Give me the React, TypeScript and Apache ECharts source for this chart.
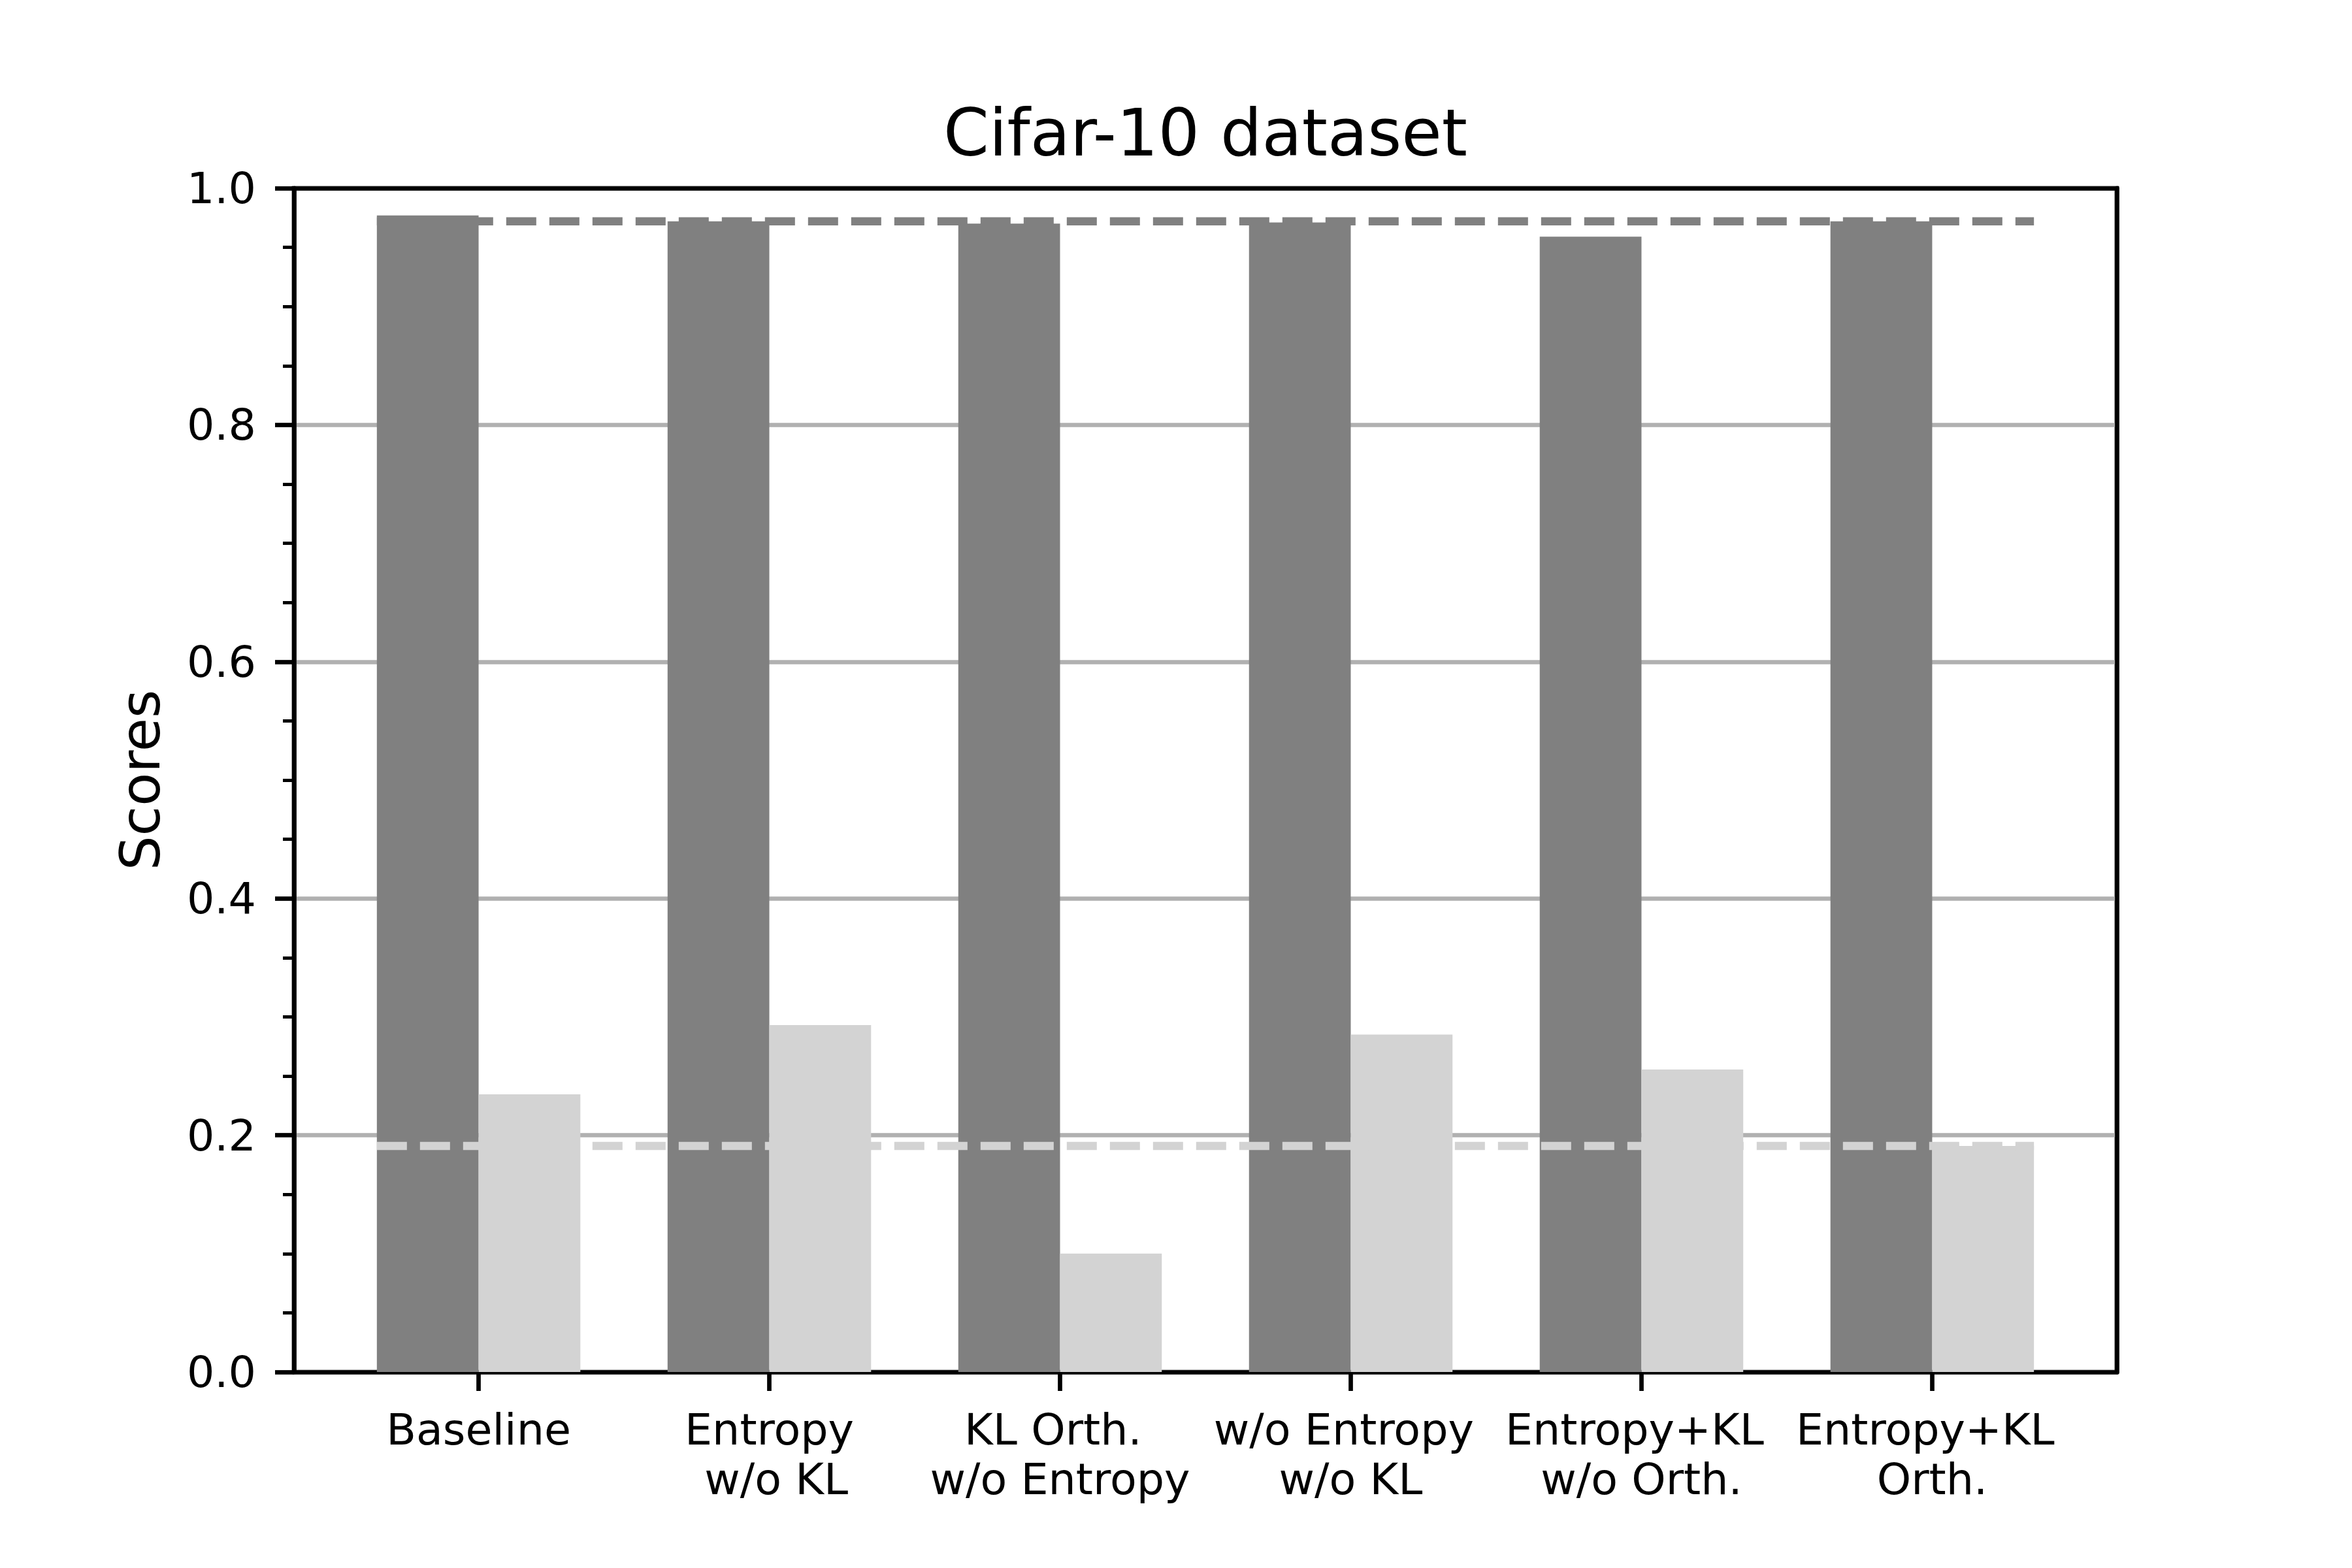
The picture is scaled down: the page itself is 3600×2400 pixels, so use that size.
import React, { useEffect, useRef } from "react";
import * as echarts from "echarts";

const categories = [
  "Baseline",
  "Entropy\n w/o KL",
  "KL Orth. \nw/o Entropy",
  "w/o Entropy \nw/o KL",
  "Entropy+KL \nw/o Orth.",
  "Entropy+KL \nOrth.",
];
const darkScores = [0.977, 0.972, 0.970, 0.971, 0.959, 0.972];
const lightScores = [0.2345, 0.293, 0.1, 0.285, 0.2555, 0.191];
const darkReference = [0.972];
const lightReference = [0.191];
const tickPositions = [0, 1, 2, 3, 4, 5];

const FONT = "DejaVu Sans";
const DARK = "#808080";
const LIGHT = "#d3d3d3";

export default function App() {
  const ref = useRef<HTMLDivElement>(null);
  useEffect(() => {
    if (!ref.current) return;
    const chart = echarts.init(ref.current, null, { renderer: "svg" });
    const gridLeft = 450;
    const gridTop = 288;
    const gridWidth = 2790;
    const gridHeight = 1812;
    const xMin = -0.635;
    const xMax = 5.635;
    const barUnits = 0.35;
    const barPx = (barUnits * gridWidth) / (xMax - xMin);
    const half = barUnits / 2;
    const lineStart = -barUnits;
    const lineEnd = tickPositions[tickPositions.length - 1] + barUnits;
    const spine = { show: true, onZero: false, lineStyle: { color: "#000", width: 6.7 } };

    chart.setOption({
      animation: false,
      backgroundColor: "#ffffff",
      grid: {
        left: gridLeft,
        top: gridTop,
        width: gridWidth,
        height: gridHeight,
        show: true,
        borderColor: "#000",
        borderWidth: 6.7,
        backgroundColor: "transparent",
        containLabel: false,
        outerBoundsMode: "none",
      },
      graphic: [
        {
          type: "text",
          x: gridLeft + gridWidth / 2,
          y: 203,
          style: {
            text: "Cifar-10 dataset",
            fontSize: 100,
            fontFamily: FONT,
            fill: "#000",
            textAlign: "center",
            textVerticalAlign: "middle",
          },
        },
      ],
      xAxis: [
        {
          type: "value",
          min: xMin,
          max: xMax,
          position: "bottom",
          splitLine: { show: false },
          axisLine: spine,
          axisTick: {
            show: true,
            customValues: tickPositions,
            length: 29,
            lineStyle: { color: "#000", width: 6.7 },
          },
          axisLabel: {
            customValues: tickPositions,
            formatter: (v: number) => categories[Math.round(v)] ?? "",
            fontSize: 66.7,
            lineHeight: 76,
            margin: 50,
            color: "#000",
            fontFamily: FONT,
          },
        },
        {
          type: "value",
          min: xMin,
          max: xMax,
          position: "top",
          splitLine: { show: false },
          axisLine: spine,
          axisTick: { show: false },
          axisLabel: { show: false },
        },
      ],
      yAxis: [
        {
          type: "value",
          min: 0,
          max: 1,
          interval: 0.2,
          position: "left",
          name: "Scores",
          nameLocation: "middle",
          nameRotate: 90,
          nameGap: 193,
          nameTextStyle: { fontSize: 83.3, lineHeight: 83, fontFamily: FONT, color: "#000" },
          axisLine: spine,
          axisTick: { show: true, length: 29, lineStyle: { color: "#000", width: 6.7 } },
          minorTick: { show: true, splitNumber: 4, length: 17, lineStyle: { color: "#000", width: 5 } },
          splitLine: { show: true, lineStyle: { color: "#b0b0b0", width: 6.7 } },
          axisLabel: {
            formatter: (v: number) => v.toFixed(1),
            fontSize: 66.7,
            margin: 58,
            color: "#000",
            fontFamily: FONT,
          },
        },
        {
          type: "value",
          min: 0,
          max: 1,
          interval: 0.2,
          position: "right",
          axisLine: spine,
          axisTick: { show: false },
          axisLabel: { show: false },
          splitLine: { show: false },
        },
      ],
      series: [
        {
          type: "bar",
          data: darkScores.map((v, i) => [tickPositions[i] - half, v]),
          barWidth: barPx,
          itemStyle: { color: DARK },
          z: 2,
        },
        {
          type: "bar",
          data: lightScores.map((v, i) => [tickPositions[i] + half, v]),
          barWidth: barPx,
          barGap: "-100%",
          itemStyle: { color: LIGHT },
          z: 2,
        },
        {
          type: "line",
          data: [
            [lineStart, darkReference[0]],
            [lineEnd, darkReference[0]],
          ],
          symbol: "none",
          lineStyle: { color: DARK, width: 12.5, type: [46, 20], cap: "butt" },
          z: 3,
        },
        {
          type: "line",
          data: [
            [lineStart, lightReference[0]],
            [lineEnd, lightReference[0]],
          ],
          symbol: "none",
          lineStyle: { color: LIGHT, width: 12.5, type: [46, 20], cap: "butt" },
          z: 3,
        },
      ],
    });
    return () => chart.dispose();
  }, []);
  return (
    <div
      ref={ref}
      style={{ position: "absolute", left: 0, top: 0, width: 3600, height: 2400, background: "#fff" }}
    />
  );
}
